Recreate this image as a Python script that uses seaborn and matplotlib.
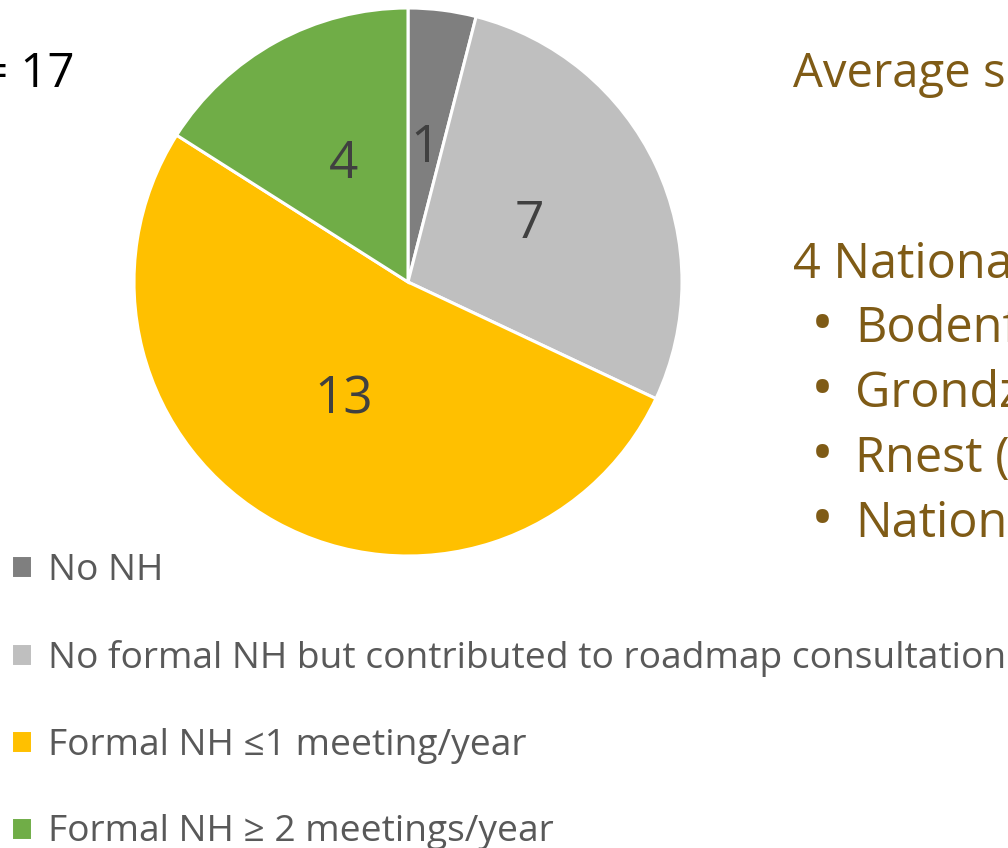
import matplotlib
matplotlib.use("Agg")
import matplotlib.pyplot as plt
import seaborn as sns

categories = ["No NH",
              "No formal NH but contributed to roadmap consultation",
              "Formal NH \u22641 meeting/year",
              "Formal NH \u2265 2 meetings/year"]
values = [1, 7, 13, 4]
colors = ["#7F7F7F", "#BFBFBF", "#FFC000", "#70AD47"]

n_text = "n = 17"
right_title = "Average s"
right_head = "4 Nationa"
right_bullets = ["Bodenf", "Grondz", "Rnest (", "Nationa"]

sns.set_theme(style="white")
plt.rcParams["font.family"] = ["Open Sans", "DejaVu Sans"]

W, H = 1008, 848
fig = plt.figure(figsize=(W / 100, H / 100), dpi=100)
ax = fig.add_axes([0, 0, 1, 1])

total = sum(values)
wedges, texts, autotexts = ax.pie(
    values, colors=colors, startangle=90, counterclock=False,
    center=(408, H - 282), radius=274,
    wedgeprops=dict(edgecolor="white", linewidth=2.2),
    autopct=lambda p: f"{round(p * total / 100)}", pctdistance=0.49,
    textprops=dict(fontsize=37, color="#404040"))

ax.set_xlim(0, W)
ax.set_ylim(0, H)
ax.set_aspect("equal")
ax.axis("off")

leg = ax.legend(wedges, categories, loc="upper left",
                bbox_to_anchor=(11 / W, 1 - 553 / H), frameon=False,
                fontsize=26.7, handlelength=0.57, handleheight=0.57,
                handletextpad=0.42, labelspacing=1.37, borderaxespad=0,
                borderpad=0)
for t in leg.get_texts():
    t.set_color("#595959")

ax.text(75, H - 87, n_text, fontsize=34, color="black", ha="right", va="baseline")

brown = "#7F5B16"
ax.text(793, H - 87, right_title, fontsize=34, color=brown, ha="left", va="baseline")
ax.text(793, H - 278, right_head, fontsize=35, color=brown, ha="left", va="baseline")
for i, b in enumerate(right_bullets):
    y = H - (342 + 65 * i)
    ax.text(822, y + 15, "\u2022", fontsize=44, color=brown, ha="center", va="center")
    ax.text(855, y, b, fontsize=35, color=brown, ha="left", va="baseline")

fig.savefig("out.png", dpi=100)
